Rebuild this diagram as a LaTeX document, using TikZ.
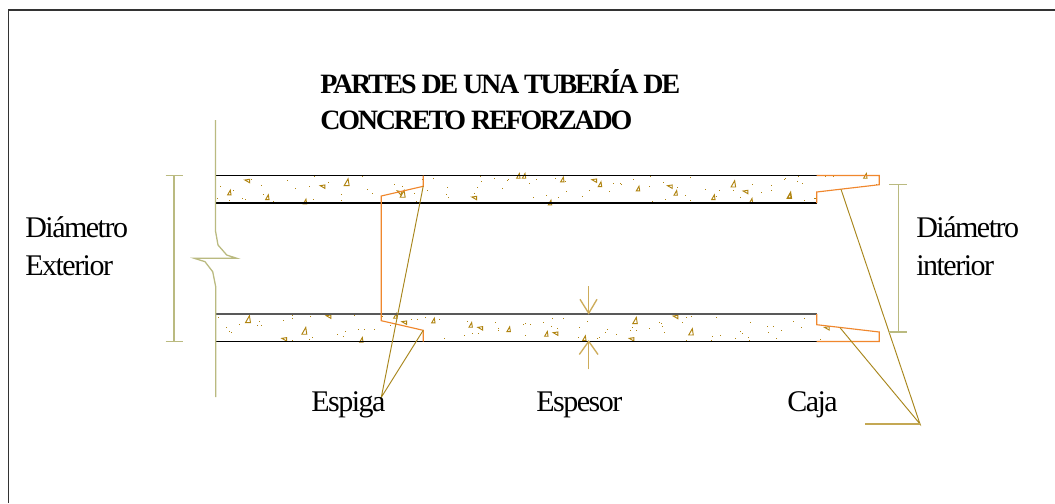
\documentclass[tikz,border=0pt]{standalone}
\usepackage{fontspec}
\setmainfont{Liberation Serif}
\newfontfamily\lblfont[LetterSpace=-5]{Liberation Serif}
\newfontfamily\ttlfont[LetterSpace=-7.8]{Liberation Serif Bold}
\definecolor{olivedim}{RGB}{186,186,128}
\definecolor{goldlead}{RGB}{168,134,28}
\definecolor{goldfoot}{RGB}{196,168,84}
\definecolor{goldarrow}{RGB}{205,172,90}
\definecolor{orangeedge}{RGB}{240,135,45}
\definecolor{speck}{RGB}{176,132,16}
\tikzset{
  x=0.75pt,y=-0.75pt,
  framelne/.style={draw=black!80,line width=1pt},
  pipelne/.style={draw=black,line width=1.25pt},
  pipegrey/.style={draw=black!65,line width=1.25pt},
  edgelne/.style={draw=orangeedge,line width=0.85pt},
  dimlne/.style={draw=olivedim,line width=1.1pt},
  breaklne/.style={draw=olivedim,line width=0.95pt},
  leadlne/.style={draw=goldlead,line width=0.7pt},
  footlne/.style={draw=goldfoot,line width=0.9pt},
  arrowlne/.style={draw=goldarrow,line width=1pt},
  lbl/.style={inner sep=0pt,anchor=base west,font=\lblfont\fontsize{22.5}{27}\selectfont},
  ttl/.style={inner sep=0pt,anchor=base west,font=\ttlfont\fontsize{21}{25}\selectfont},
  tri/.style={draw=speck,line width=0.7pt,line join=miter},
}
\newcommand{\dotsat}[3]{%
  \begin{scope}[shift={(#1,#2)}]
  \foreach \x/\y in {#3} \fill[speck] ({\x/3},{\y/3}) rectangle +(0.9,0.9);
  \end{scope}}
\newcommand{\trisat}[4]{%
  \begin{scope}[shift={(#1,#2)}]
  \foreach \x/\y/\r in {#4}
    \draw[tri,shift={({\x/3},{\y/3})},rotate=\r] (-#3*0.38,#3*0.5) -- (#3*0.22,-#3*0.55) -- (#3*0.38,#3*0.5) -- cycle;
  \end{scope}}
\begin{document}
\begin{tikzpicture}
\useasboundingbox (0,0) rectangle (1055,503);
\fill[white] (0,0) rectangle (1055,503);
% frame
\coordinate (fa) at (8.5,503); \coordinate (fb) at (8.5,10); \coordinate (fc) at (1055,10);
\draw[framelne] (fa) -- (fb) -- (fc);
% speckles
\dotsat{160}{160}{181/78,273/58,302/76,381/60,463/48,606/48,406/85,448/78,505/67,542/102,544/120,622/87,637/100,703/72,727/78,763/99,802/90,820/55,862/82,859/102,865/112,785/58,767/124,604/127,460/118,340/124,308/102,256/118,247/115,208/120,172/115,220/91,175/471,298/484,303/496,290/496,238/492,199/502,208/514,214/517,370/481,397/465,397/473,451/468,457/532,448/538,397/541,532/523,556/514,549/528,595/507,613/507,643/507,583/465,595/460,666/468,690/495,754/476,772/478,796/471,826/463,856/462,838/478,853/535}
\dotsat{450}{270}{52/154,43/195,65/190,83/189,136/157,145/175,143/180,220/162,226/160,241/163,226/196,280/157,307/145,340/145,304/169,320/175,388/172,412/154,385/202,440/205,448/202,472/178,466/187,499/193,518/212,541/181,547/172,559/181,598/175,628/157,634/160,637/169,643/187,697/157,709/141,724/139,799/142,709/211,787/199,811/196,856/205,784/211,871/184,877/190,895/202,898/211,899/157,502/132,838/132}
\dotsat{760}{160}{22/499,40/499,25/517,64/511,49/535,100/484,124/502,133/475,181/538,133/462,76/54,34/75,34/90,4/97,112/63,127/69,115/48,133/120,164/115,73/57,196/48,220/48,349/72}
\dotsat{450}{165}{91/33,94/48,133/39,175/42,172/46,82/67,157/70,73/85,238/54,259/42,316/40,346/48,349/78,250/97,289/90,325/97,418/75,397/94,478/78,490/54,511/55,514/58,550/42,601/33,598/63,640/51,682/67,721/37,766/72,808/75,706/90,646/102,607/109,721/106,799/94,871/97,907/58,850/75,934/82,964/61,964/75,1006/40,1042/48,1057/55,1045/33,1063/106,1093/100,31/113,151/115,316/112}
\trisat{160}{160}{4.5}{262/63/90,488/80/90,208/98/0,322/112/0,435/125/0,718/98/70,506/470/90,706/468/0,733/488/90,820/482/0,373/538/90,604/540/0}
\trisat{160}{160}{6.5}{560/67/0,728/102/0,264/478/0,433/513/0}
\trisat{450}{270}{4.5}{62/165/0,91/175/90,176/178/0,289/192/0,317/191/90,403/205/0,545/208/90,677/141/90}
\trisat{450}{270}{6}{555/152/0,723/186/0}
\trisat{760}{160}{4.5}{88/107/0,201/505/90,316/48/0}
\trisat{450}{165}{4.5}{73/99/90,205/33/0,222/33/0,337/44/0,433/47/90,450/58/0,564/71/0,660/65/90,677/84/0,790/97/0,887/81/90,903/108/0,300/113/0}
\trisat{450}{165}{6}{850/57/0,1018/91/0}
% pipe walls
\coordinate (ul) at (215.5,175.5); \coordinate (ur) at (816.7,175.5);
\coordinate (ll) at (215.5,203);   \coordinate (lr) at (816.7,203);
\coordinate (bl) at (215.5,314);   \coordinate (br) at (816.7,314);
\coordinate (cl) at (215.5,341.5); \coordinate (cr) at (816.7,341.5);
\draw[pipelne] (ul) -- (ur);
\draw[pipelne] (ll) -- (lr);
\draw[pipegrey] (bl) -- (br);
\draw[pipelne] (cl) -- (cr);
% break line
\coordinate (b0) at (215.5,120); \coordinate (b1) at (215.5,231); \coordinate (b2) at (218,245);
\coordinate (b3) at (226.7,255); \coordinate (b4) at (236.7,258.3); \coordinate (b5) at (194.3,258.3);
\coordinate (b6) at (205,261.7); \coordinate (b7) at (212.7,271.7); \coordinate (b8) at (215.7,286.7);
\coordinate (b9) at (215.7,397);
\draw[breaklne] (b0) -- (b1) -- (b2) -- (b3) -- (b4) -- (b5) -- (b6) -- (b7) -- (b8) -- (b9);
% spigot edge
\coordinate (s0) at (423.2,175.5); \coordinate (s1) at (423.2,186.3); \coordinate (s2) at (381.3,196);
\coordinate (s3) at (381.3,320.7); \coordinate (s4) at (423.2,330.3); \coordinate (s5) at (423.2,341.5);
\draw[edgelne] (s0) -- (s1) -- (s2) -- (s3) -- (s4) -- (s5);
% socket edges
\coordinate (k0) at (879.3,175.5); \coordinate (k1) at (879.3,184.7); \coordinate (k2) at (816.7,192);
\coordinate (k3) at (816.7,324.7); \coordinate (k4) at (879.3,332); \coordinate (k5) at (879.3,341.5);
\draw[edgelne] (ur) -- (k0) -- (k1) -- (k2) -- (lr);
\draw[edgelne] (br) -- (k3) -- (k4) -- (k5) -- (cr);
% leaders
\coordinate (ea) at (381.3,397.3);
\draw[leadlne] (s1) -- (ea) -- (s4);
\coordinate (ca) at (920,424); \coordinate (cb) at (841,189.3); \coordinate (cc) at (840,327.7); \coordinate (cd) at (865,424);
\draw[leadlne] (cb) -- (ca) -- (cc);
\draw[footlne] (cd) -- (ca);
% dimension lines
\coordinate (da) at (174,175.5); \coordinate (db) at (174,341.5);
\draw[dimlne] (da) -- (db);
\draw[dimlne] (165.7,175.5) -- (182.7,175.5);
\draw[dimlne] (165.7,341.5) -- (182.7,341.5);
\coordinate (dc) at (898.3,184.7); \coordinate (dd) at (898.3,332);
\draw[dimlne] (dc) -- (dd);
\draw[dimlne] (889.3,184.7) -- (906.7,184.7);
\draw[dimlne] (889.3,332) -- (906.7,332);
% thickness arrows
\coordinate (ta) at (588.7,286); \coordinate (tb) at (588.7,313.3);
\coordinate (tc) at (588.7,369.3); \coordinate (td) at (588.7,341.3);
\draw[arrowlne] (ta) -- (tb);
\draw[arrowlne] (580,299.3) -- (tb) -- (597,299.3);
\draw[arrowlne] (tc) -- (td);
\draw[arrowlne] (579.3,354.5) -- (td) -- (598,354.5);
% texts
\node[ttl] (t1) at (320,93.5) {PARTES DE UNA TUBERÍA DE};
\node[ttl] (t2) at (320,129.5) {CONCRETO REFORZADO};
\node[lbl] (de1) at (25,237) {Diámetro};
\node[lbl] (de2) at (25,275) {Exterior};
\node[lbl] (di1) at (916,237) {Diámetro};
\node[lbl] (di2) at (916,275) {interior};
\node[lbl] (esg) at (311,411.5) {Espiga};
\node[lbl] (esp) at (536,411.5) {Espesor};
\node[lbl] (caj) at (787,411.5) {Caja};
\end{tikzpicture}
\end{document}
